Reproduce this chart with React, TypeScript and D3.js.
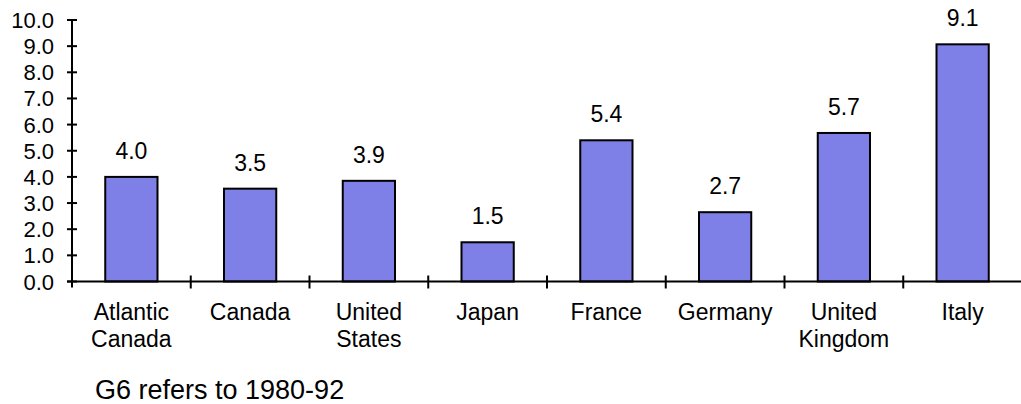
import React, { useEffect, useRef } from 'react';
import * as d3 from 'd3';

const categories = [
    ['Atlantic', 'Canada'],
    ['Canada'],
    ['United', 'States'],
    ['Japan'],
    ['France'],
    ['Germany'],
    ['United', 'Kingdom'],
    ['Italy'],
];
const values = [4.0, 3.55, 3.85, 1.5, 5.4, 2.65, 5.68, 9.07];
const valueLabels = ['4.0', '3.5', '3.9', '1.5', '5.4', '2.7', '5.7', '9.1'];
const yTicks = [0, 1, 2, 3, 4, 5, 6, 7, 8, 9, 10];
const footnote = 'G6 refers to 1980-92';

const App: React.FC = () => {
    const svgRef = useRef<SVGSVGElement | null>(null);

    useEffect(() => {
        const svg = d3.select(svgRef.current);
        svg.selectAll('*').remove();

        const width = 1021;
        const height = 404;
        const left = 72;
        const top = 20;
        const bottom = 281.5;
        const font = 'Liberation Sans, Arial, sans-serif';

        svg.attr('width', width).attr('height', height);

        const keys = categories.map((_, i) => String(i));
        const x = d3.scaleBand<string>()
            .domain(keys)
            .range([left, 1022])
            .padding(0);

        const y = d3.scaleLinear()
            .domain([0, 10])
            .range([bottom, top]);

        const barW = x.bandwidth() * 0.44;

        // bars
        svg.append('g')
            .selectAll('rect')
            .data(values)
            .enter().append('rect')
            .attr('x', (_, i) => (x(String(i)) || 0) + (x.bandwidth() - barW) / 2)
            .attr('y', d => y(d))
            .attr('width', barW)
            .attr('height', d => y(0) - y(d))
            .attr('fill', '#7f7fe8')
            .attr('stroke', '#000')
            .attr('stroke-width', 2);

        // value labels
        svg.append('g')
            .selectAll('text')
            .data(values)
            .enter().append('text')
            .attr('x', (_, i) => (x(String(i)) || 0) + x.bandwidth() / 2)
            .attr('y', d => y(d) - 18)
            .attr('text-anchor', 'middle')
            .attr('font-family', font)
            .attr('font-size', 23)
            .attr('fill', '#000')
            .text((_, i) => valueLabels[i]);

        // y axis
        const yAxis = svg.append('g');
        yAxis.append('line')
            .attr('x1', left).attr('x2', left)
            .attr('y1', y(10)).attr('y2', y(0) + 6)
            .attr('stroke', '#000').attr('stroke-width', 2);
        yAxis.selectAll('line.tick')
            .data(yTicks)
            .enter().append('line')
            .attr('class', 'tick')
            .attr('x1', left - 5).attr('x2', left + 5)
            .attr('y1', d => y(d)).attr('y2', d => y(d))
            .attr('stroke', '#000').attr('stroke-width', 2);
        yAxis.selectAll('text')
            .data(yTicks)
            .enter().append('text')
            .attr('x', 54)
            .attr('y', d => y(d) + 8)
            .attr('text-anchor', 'end')
            .attr('font-family', font)
            .attr('font-size', 22)
            .attr('fill', '#000')
            .text(d => d3.format('.1f')(d));

        // x axis
        const xAxis = svg.append('g');
        xAxis.append('line')
            .attr('x1', left - 5).attr('x2', width)
            .attr('y1', y(0)).attr('y2', y(0))
            .attr('stroke', '#000').attr('stroke-width', 2);
        xAxis.selectAll('line.tick')
            .data(keys.slice(1))
            .enter().append('line')
            .attr('class', 'tick')
            .attr('x1', d => x(d) || 0).attr('x2', d => x(d) || 0)
            .attr('y1', y(0) - 6).attr('y2', y(0) + 7)
            .attr('stroke', '#000').attr('stroke-width', 2);

        const labels = xAxis.selectAll('text')
            .data(categories)
            .enter().append('text')
            .attr('text-anchor', 'middle')
            .attr('font-family', font)
            .attr('font-size', 23)
            .attr('fill', '#000');
        labels.each(function (lines, i) {
            const t = d3.select(this);
            lines.forEach((line, j) => {
                t.append('tspan')
                    .attr('x', (x(String(i)) || 0) + x.bandwidth() / 2)
                    .attr('y', y(0) + 38 + j * 27)
                    .text(line);
            });
        });

        // footnote
        svg.append('text')
            .attr('x', 95)
            .attr('y', 399)
            .attr('font-family', font)
            .attr('font-size', 27)
            .attr('fill', '#000')
            .text(footnote);
    }, []);

    return (
        <svg ref={svgRef} style={{ position: 'absolute', left: 0, top: 0 }}></svg>
    );
};

export default App;
